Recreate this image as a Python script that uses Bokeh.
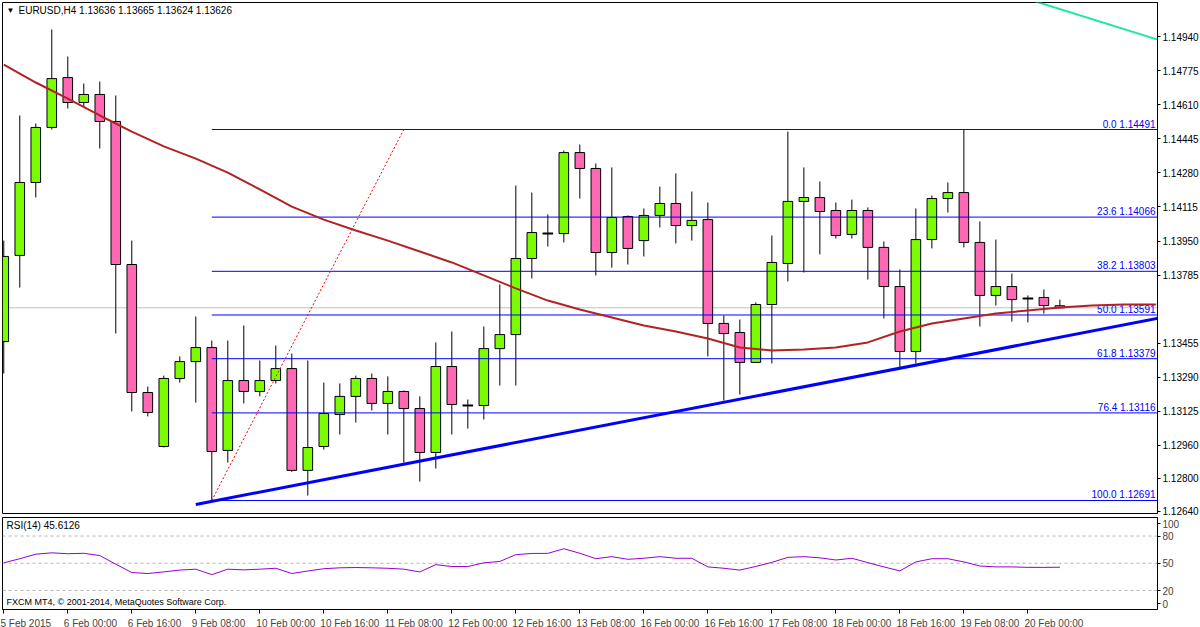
from bokeh.plotting import figure
from bokeh.models import FixedTicker, PrintfTickFormatter, Span, Label, Range1d, ColumnDataSource
from bokeh.layouts import column
from bokeh.embed import file_html
from bokeh.resources import INLINE
from bokeh.core.properties import value

# ---------------- data ----------------
symbol = "EURUSD,H4"
bars = list(range(67))
opens = [1.13462,1.13880,1.14234,1.14501,1.14743,1.14622,1.14661,1.14530,1.13836,1.13215,
         1.12953,1.13283,1.13365,1.13433,1.12934,1.13273,1.13220,1.13273,1.13331,1.12837,
         1.12953,1.13108,1.13196,1.13283,1.13162,1.13220,1.13137,1.12924,1.13341,1.13152,
         1.13152,1.13428,1.13496,1.13865,1.13986,1.13986,1.14379,1.14302,1.13894,1.14069,
         1.13952,1.14074,1.14132,1.14025,1.14054,1.13550,1.13506,1.13361,1.13642,1.13841,
         1.14142,1.14161,1.14098,1.13982,1.14098,1.13919,1.13729,1.13414,1.13957,1.14156,
         1.14185,1.13943,1.13686,1.13729,1.13671,1.13676,1.13636]
highs = [1.13952,1.14559,1.14520,1.14976,1.14845,1.14714,1.14724,1.14656,1.13952,1.13244,
         1.13297,1.13390,1.13584,1.13467,1.13467,1.13540,1.13370,1.13443,1.13404,1.13370,
         1.13263,1.13259,1.13297,1.13307,1.13293,1.13225,1.13196,1.13458,1.13511,1.13181,
         1.13535,1.13739,1.14219,1.14185,1.14079,1.14389,1.14418,1.14326,1.14307,1.14074,
         1.14108,1.14214,1.14278,1.14190,1.14137,1.13589,1.13569,1.13652,1.13977,1.14481,
         1.14307,1.14239,1.14137,1.14151,1.14113,1.13948,1.13812,1.14108,1.14171,1.14234,
         1.14491,1.14045,1.13957,1.13792,1.13686,1.13715,1.13665]
lows = [1.13307,1.13724,1.14161,1.14491,1.14593,1.14598,1.14399,1.13501,1.13123,1.13099,
        1.12948,1.13263,1.13166,1.12691,1.12875,1.13162,1.13196,1.13259,1.12830,1.12715,
        1.12938,1.13011,1.13069,1.13128,1.13011,1.12875,1.12783,1.12846,1.13011,1.13040,
        1.13084,1.13249,1.13249,1.13768,1.13923,1.13943,1.14156,1.13783,1.13821,1.13836,
        1.13875,1.14016,1.13938,1.13952,1.13390,1.13176,1.13205,1.13361,1.13356,1.13754,
        1.13797,1.13885,1.13962,1.13962,1.13763,1.13574,1.13327,1.13356,1.13914,1.14088,
        1.13919,1.13535,1.13637,1.13559,1.13555,1.13598,1.13624]
closes = [1.13875,1.14234,1.14501,1.14738,1.14622,1.14661,1.14530,1.13836,1.13215,1.13118,
          1.13283,1.13365,1.13433,1.12929,1.13273,1.13220,1.13273,1.13331,1.12837,1.12948,
          1.13113,1.13196,1.13283,1.13162,1.13220,1.13137,1.12924,1.13341,1.13157,1.13152,
          1.13428,1.13496,1.13865,1.13991,1.13986,1.14379,1.14302,1.13894,1.14064,1.13914,
          1.14074,1.14132,1.14025,1.14050,1.13550,1.13501,1.13361,1.13642,1.13846,1.14142,
          1.14161,1.14093,1.13977,1.14098,1.13919,1.13729,1.13414,1.13957,1.14156,1.14185,
          1.13943,1.13686,1.13729,1.13666,1.13671,1.13637,1.13626]

rsi_period = 14
rsi = [50.5,55,60,61.5,60.5,61,58.5,49,39.8,38.7,
       40.5,42.5,43.5,37.5,43.5,42.7,43.5,44.5,38.7,41.5,
       44,45,45.3,45,44.5,43.5,40.5,48.5,46.4,46.4,
       50.5,52,59.5,60.8,60.9,66,61,55,57.3,54.4,
       55.5,57.3,55.5,55.5,46,44.5,42.5,46.5,51,56.5,
       57.3,56,53.6,55.5,50.7,46,41.6,51.5,55,55,
       51.5,47,46,46,45.5,45.5,45.6126]
rsi_levels = [20, 50, 80]

ma_bars = list(range(0, 73, 2))
ma_vals = [1.14806,1.14719,1.14641,1.14559,1.14481,1.14409,1.14350,1.14282,1.14200,1.14117,
           1.14054,1.14001,1.13952,1.13899,1.13846,1.13783,1.13720,1.13661,1.13618,1.13579,
           1.13540,1.13511,1.13477,1.13433,1.13419,1.13424,1.13433,1.13458,1.13511,1.13550,
           1.13574,1.13598,1.13613,1.13627,1.13637,1.13642,1.13642]

ma2_bars = [63.5, 72.2]
ma2_vals = [1.15136, 1.14925]

trend_bars = [12, 72.2]
trend_vals = [1.12672, 1.13576]

fib_anchor_bars = [13, 25]
fib_pct = ["0.0", "23.6", "38.2", "50.0", "61.8", "76.4", "100.0"]
fib_prices = [1.14491, 1.14066, 1.13803, 1.13591, 1.13379, 1.13116, 1.12691]

price_ticks = [1.14940, 1.14775, 1.14610, 1.14445, 1.14280, 1.14115, 1.13950, 1.13785,
               1.13455, 1.13290, 1.13125, 1.12960, 1.12800, 1.12640]
x_tick_bars = list(range(0, 65, 4))
x_labels = ["5 Feb 2015", "6 Feb 00:00", "6 Feb 16:00", "9 Feb 08:00", "10 Feb 00:00",
            "10 Feb 16:00", "11 Feb 08:00", "12 Feb 00:00", "12 Feb 16:00", "13 Feb 08:00",
            "16 Feb 00:00", "16 Feb 16:00", "17 Feb 08:00", "18 Feb 00:00", "18 Feb 16:00",
            "19 Feb 08:00", "20 Feb 00:00"]

# ---------------- style ----------------
FONT = "Liberation Sans"
FS = "10px"
BULL = "#7CFC00"
BEAR = "#FF69B4"
BAR_PX = 16.0
XR = Range1d(-0.08, 72.1)

main = figure(frame_width=1155, frame_height=511, x_range=XR,
              y_range=Range1d(1.126279, 1.151072),
              output_backend="svg", toolbar_location=None,
              y_axis_location="right", x_axis_location=None,
              min_border_left=2, min_border_top=2, min_border_bottom=4, min_border_right=0,
              background_fill_color="white", border_fill_color="white",
              outline_line_color="black", outline_line_width=1)
main.grid.visible = False

ya = main.yaxis[0]
ya.ticker = FixedTicker(ticks=price_ticks)
ya.formatter = PrintfTickFormatter(format="%.5f")
ya.major_tick_out = 3
ya.major_tick_in = 0
ya.minor_tick_out = 0
ya.minor_tick_in = 0
ya.major_label_standoff = 2
ya.major_label_text_font = FONT
ya.major_label_text_font_size = FS
ya.major_label_text_color = "black"
ya.axis_line_color = "black"

# bid line
main.add_layout(Span(location=closes[-1], dimension="width", line_color="#C0C0C0",
                     line_width=1, level="underlay"))

colors = [BULL if c > o else BEAR for o, c in zip(opens, closes)]
src = ColumnDataSource(dict(x=bars, h=highs, l=lows))
main.segment(x0="x", y0="l", x1="x", y1="h", source=src, line_color="black", line_width=1)
body_idx = [i for i in bars if opens[i] != closes[i]]
doji_idx = [i for i in bars if opens[i] == closes[i]]
bsrc = ColumnDataSource(dict(
    x=[bars[i] for i in body_idx],
    top=[max(opens[i], closes[i]) for i in body_idx],
    bottom=[min(opens[i], closes[i]) for i in body_idx],
    color=[colors[i] for i in body_idx]))
main.vbar(x="x", width=0.6, top="top", bottom="bottom", source=bsrc,
          fill_color="color", line_color="black", line_width=1)
main.segment(x0=[bars[i] - 0.33 for i in doji_idx], y0=[opens[i] for i in doji_idx],
             x1=[bars[i] + 0.33 for i in doji_idx], y1=[closes[i] for i in doji_idx],
             line_color="black", line_width=2)

# fibonacci
main.segment(x0=[fib_anchor_bars[0]] * len(fib_prices), y0=fib_prices,
             x1=[XR.end] * len(fib_prices), y1=fib_prices, line_color="#0000FF", line_width=1)
main.line(x=fib_anchor_bars, y=[fib_prices[-1], fib_prices[0]], line_color="#FF0000",
          line_width=1, line_dash="2 2")
main.text(x=[XR.end] * len(fib_prices), y=fib_prices,
          text=[f"{p} {v:.5f}" for p, v in zip(fib_pct, fib_prices)],
          text_align="right", text_baseline="bottom", x_offset=-2, y_offset=0,
          text_font=value(FONT), text_font_size=FS, text_color="#0000FF")

# indicators & trendline
main.line(ma_bars, ma_vals, line_color="#B22222", line_width=2)
main.line(ma2_bars, ma2_vals, line_color="#20E6A0", line_width=2)
main.line(trend_bars, trend_vals, line_color="#0000FF", line_width=3)

# labels
main.add_layout(Label(x=4, y=503, x_units="screen", y_units="screen", text="▼",
                      text_font=FONT, text_font_size="8px", text_baseline="middle",
                      text_color="black"))
main.add_layout(Label(x=16, y=503, x_units="screen", y_units="screen",
                      text=f"{symbol}  {opens[-1]:.5f} {highs[-1]:.5f} {lows[-1]:.5f} {closes[-1]:.5f}",
                      text_font=FONT, text_font_size="10px", text_baseline="middle",
                      text_color="black"))
main.add_layout(Label(x=XR.end, y=closes[-1], x_offset=1, text=f"{closes[-1]:.5f}",
                      text_font=FONT, text_font_size=FS, text_baseline="middle",
                      text_align="left", text_color="white", background_fill_color="black",
                      padding=2))

# ---------------- RSI panel ----------------
rp = figure(frame_width=1155, frame_height=92, x_range=XR, y_range=Range1d(-0.9, 100.4),
            output_backend="svg", toolbar_location=None, y_axis_location="right",
            min_border_left=2, min_border_top=0, min_border_bottom=0, min_border_right=0,
            background_fill_color="white", border_fill_color="white",
            outline_line_color="black", outline_line_width=1)
rp.grid.visible = False
for lv in rsi_levels:
    rp.add_layout(Span(location=lv, dimension="width", line_color="#B4B4B4",
                       line_width=1, line_dash="3 3", level="underlay"))
rp.line(bars, rsi, line_color="#9400D3", line_width=1)

ry = rp.yaxis[0]
r_ticks = [5.6, 20.0, 50.0, 80.0, 93.3]
ry.ticker = FixedTicker(ticks=r_ticks)
ry.major_label_overrides = {5.6: "0", 20.0: "20", 50.0: "50", 80.0: "80", 93.3: "100"}
ry.major_tick_out = 3
ry.major_tick_in = 0
ry.minor_tick_out = 0
ry.minor_tick_in = 0
ry.major_label_standoff = 2
ry.major_label_text_font = FONT
ry.major_label_text_font_size = FS
ry.axis_line_color = "black"

# labels sit just right of their tick (MT4 style): place label centres accordingly
centers = []
for b, lab in zip(x_tick_bars, x_labels):
    off_px = 21.7 if b == 0 else 22.7 + (len(lab) - 11) * 3.3
    centers.append(round(b + off_px / BAR_PX, 3))
rx = rp.xaxis[0]
rx.ticker = FixedTicker(ticks=centers, minor_ticks=x_tick_bars)
rx.major_label_overrides = {c: lab for c, lab in zip(centers, x_labels)}
rx.major_tick_out = 0
rx.major_tick_in = 0
rx.minor_tick_out = 4
rx.minor_tick_in = 0
rx.minor_tick_line_color = "black"
rx.major_label_standoff = 4
rx.major_label_text_font = FONT
rx.major_label_text_font_size = FS
rx.axis_line_color = "black"

rp.add_layout(Label(x=4, y=84, x_units="screen", y_units="screen",
                    text=f"RSI({rsi_period}) {rsi[-1]:.4f}", text_font=FONT,
                    text_font_size=FS, text_baseline="middle", text_color="black"))
rp.add_layout(Label(x=4, y=8, x_units="screen", y_units="screen",
                    text="FXCM MT4, © 2001-2014, MetaQuotes Software Corp.", text_font=FONT,
                    text_font_size="9px", text_baseline="middle", text_color="black"))

layout = column(main, rp, spacing=0)
open("out.html", "w").write(file_html(layout, INLINE))
